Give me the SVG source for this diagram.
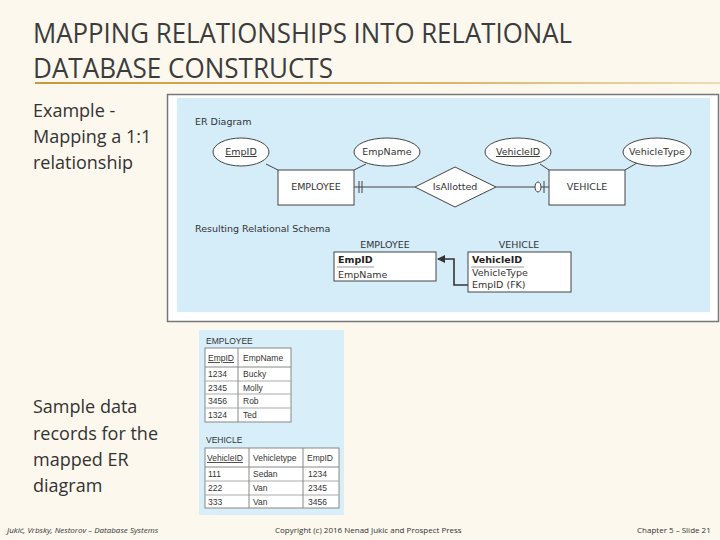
<svg xmlns="http://www.w3.org/2000/svg" width="720" height="540" viewBox="0 0 720 540">
<defs>
<linearGradient id="gold" x1="0" x2="1" y1="0" y2="0">
<stop offset="0" stop-color="#c89a3c"/>
<stop offset="0.6" stop-color="#d9b56a"/>
<stop offset="1" stop-color="#efdcb2"/>
</linearGradient>
<marker id="arr" markerWidth="8" markerHeight="8" refX="7" refY="4" orient="auto" markerUnits="userSpaceOnUse">
<path d="M0,0 L8,4 L0,8 Z" fill="#333"/>
</marker>
</defs>
<style>
.title{font-family:"Open Sans","Liberation Sans",sans-serif;font-size:27px;fill:#3c3c3c;font-weight:400}
.body{font-family:"Open Sans","Liberation Sans",sans-serif;font-size:18px;fill:#333}
.foot{font-family:"Open Sans","Liberation Sans",sans-serif;font-size:8px;fill:#333}
.er{font-family:"DejaVu Sans",Verdana,sans-serif;font-size:9.5px;fill:#333}
.erb{font-family:"DejaVu Sans",Verdana,sans-serif;font-size:9.5px;fill:#222;font-weight:bold}
.shape{fill:#fff;stroke:#444;stroke-width:1}
.ln{stroke:#444;stroke-width:1;fill:none}
.tb{font-family:"Liberation Sans",Arial,sans-serif;font-size:8.5px;fill:#333}
.cell{fill:#fff;stroke:#888;stroke-width:1}
</style>
<rect width="720" height="540" fill="#fcf8ee"/>
<g id="title">
<text class="title" x="33" y="43" textLength="539" lengthAdjust="spacingAndGlyphs">MAPPING RELATIONSHIPS INTO RELATIONAL</text>
<text class="title" x="33" y="78" textLength="300" lengthAdjust="spacingAndGlyphs">DATABASE CONSTRUCTS</text>
<rect x="35" y="82" width="685" height="2" fill="url(#gold)"/>
</g>
<g id="left-text">
<text class="body" x="33" y="117">Example -</text>
<text class="body" x="33" y="143">Mapping a 1:1</text>
<text class="body" x="33" y="169">relationship</text>
<text class="body" x="33" y="413">Sample data</text>
<text class="body" x="33" y="440">records for the</text>
<text class="body" x="33" y="466">mapped ER</text>
<text class="body" x="33" y="492">diagram</text>
</g>
<g id="er-frame">
<rect x="167.5" y="94.5" width="551" height="227" fill="#fff" stroke="#777" stroke-width="1.5"/>
<rect x="177" y="98" width="533" height="214" fill="#d5edf9"/>
<text class="er" x="195" y="125" font-size="10.5">ER Diagram</text>
<text class="er" x="195" y="232" font-size="10.5">Resulting Relational Schema</text>
</g>
<g id="connectors">
<line class="ln" x1="266" y1="164" x2="278" y2="170"/>
<line class="ln" x1="366" y1="164" x2="354" y2="170"/>
<line class="ln" x1="540" y1="164" x2="549" y2="170"/>
<line class="ln" x1="637" y1="163" x2="625" y2="170"/>
<line class="ln" x1="354" y1="187" x2="415" y2="187"/>
<line class="ln" x1="359" y1="181" x2="359" y2="193"/>
<line class="ln" x1="362" y1="181" x2="362" y2="193"/>
<line class="ln" x1="496" y1="187" x2="549" y2="187"/>
<ellipse class="shape" cx="538" cy="187" rx="3" ry="5"/>
<line class="ln" x1="544" y1="181" x2="544" y2="193"/>
<path d="M468,285 H454 V259 H438" fill="none" stroke="#333" stroke-width="1.6" marker-end="url(#arr)"/>
</g>
<g id="EmpID-attr">
<ellipse class="shape" cx="241" cy="152" rx="28" ry="14"/>
<text class="er" x="241" y="155" text-anchor="middle" text-decoration="underline">EmpID</text>
</g>
<g id="EmpName-attr">
<ellipse class="shape" cx="387" cy="152" rx="33" ry="14"/>
<text class="er" x="387" y="155" text-anchor="middle">EmpName</text>
</g>
<g id="VehicleID-attr">
<ellipse class="shape" cx="518" cy="152" rx="33" ry="14"/>
<text class="er" x="518" y="155" text-anchor="middle" text-decoration="underline">VehicleID</text>
</g>
<g id="VehicleType-attr">
<ellipse class="shape" cx="657" cy="152" rx="34" ry="14"/>
<text class="er" x="657" y="155" text-anchor="middle">VehicleType</text>
</g>
<g id="EMPLOYEE-entity">
<rect class="shape" x="278" y="170" width="76" height="35"/>
<text class="er" x="316" y="190" text-anchor="middle">EMPLOYEE</text>
</g>
<g id="IsAllotted-rel">
<polygon class="shape" points="455,167 496,187 455,207 415,187"/>
<text class="er" x="455" y="190" text-anchor="middle">IsAllotted</text>
</g>
<g id="VEHICLE-entity">
<rect class="shape" x="549" y="170" width="76" height="35"/>
<text class="er" x="587" y="190" text-anchor="middle">VEHICLE</text>
</g>
<g id="EMPLOYEE-table">
<text class="er" x="385" y="248" text-anchor="middle" font-size="10.5">EMPLOYEE</text>
<rect class="shape" x="334" y="252" width="102" height="29"/>
<text class="erb" x="338" y="263">EmpID</text>
<line x1="337" y1="267" x2="374" y2="267" stroke="#999" stroke-width="1"/>
<text class="er" x="338" y="278" font-size="9">EmpName</text>
</g>
<g id="VEHICLE-table">
<text class="er" x="519" y="248" text-anchor="middle" font-size="10.5">VEHICLE</text>
<rect class="shape" x="468" y="252" width="103" height="40"/>
<text class="erb" x="472" y="263">VehicleID</text>
<line x1="471" y1="267" x2="524" y2="267" stroke="#999" stroke-width="1"/>
<text class="er" x="472" y="276" font-size="9">VehicleType</text>
<text class="er" x="472" y="288" font-size="9">EmpID (FK)</text>
</g>
<g id="sample-data">
<rect x="199" y="330" width="145" height="185" fill="#d8eef9"/>
<text class="tb" x="206" y="344" font-size="9.5">EMPLOYEE</text>
<g id="employee-records">
<rect class="cell" x="205" y="348" width="86" height="74"/>
<line x1="205" y1="367" x2="291" y2="367" stroke="#888"/>
<line x1="205" y1="381" x2="291" y2="381" stroke="#aaa"/>
<line x1="205" y1="394" x2="291" y2="394" stroke="#aaa"/>
<line x1="205" y1="408" x2="291" y2="408" stroke="#aaa"/>
<line x1="238" y1="348" x2="238" y2="422" stroke="#888"/>
<text class="tb" x="208" y="361" text-decoration="underline">EmpID</text>
<text class="tb" x="243" y="361">EmpName</text>
<text class="tb" x="208" y="377">1234</text><text class="tb" x="243" y="377">Bucky</text>
<text class="tb" x="208" y="391">2345</text><text class="tb" x="243" y="391">Molly</text>
<text class="tb" x="208" y="404">3456</text><text class="tb" x="243" y="404">Rob</text>
<text class="tb" x="208" y="418">1324</text><text class="tb" x="243" y="418">Ted</text>
</g>
<text class="tb" x="206" y="443" font-size="9.5">VEHICLE</text>
<g id="vehicle-records">
<rect class="cell" x="205" y="448" width="134" height="60"/>
<line x1="205" y1="467" x2="339" y2="467" stroke="#888"/>
<line x1="205" y1="481" x2="339" y2="481" stroke="#aaa"/>
<line x1="205" y1="495" x2="339" y2="495" stroke="#aaa"/>
<line x1="249" y1="448" x2="249" y2="508" stroke="#888"/>
<line x1="303" y1="448" x2="303" y2="508" stroke="#888"/>
<text class="tb" x="207" y="461" text-decoration="underline">VehicleID</text>
<text class="tb" x="253" y="461">Vehicletype</text>
<text class="tb" x="307" y="461">EmpID</text>
<text class="tb" x="208" y="477">111</text><text class="tb" x="253" y="477">Sedan</text><text class="tb" x="308" y="477">1234</text>
<text class="tb" x="208" y="491">222</text><text class="tb" x="253" y="491">Van</text><text class="tb" x="308" y="491">2345</text>
<text class="tb" x="208" y="505">333</text><text class="tb" x="253" y="505">Van</text><text class="tb" x="308" y="505">3456</text>
</g>
</g>
<g id="footer">
<text class="foot" x="7" y="533" font-style="italic">Jukić, Vrbsky, Nestorov – Database Systems</text>
<text class="foot" x="275" y="533">Copyright (c) 2016 Nenad Jukic and Prospect Press</text>
<text class="foot" x="637" y="533">Chapter 5 – Slide 21</text>
</g>
</svg>
